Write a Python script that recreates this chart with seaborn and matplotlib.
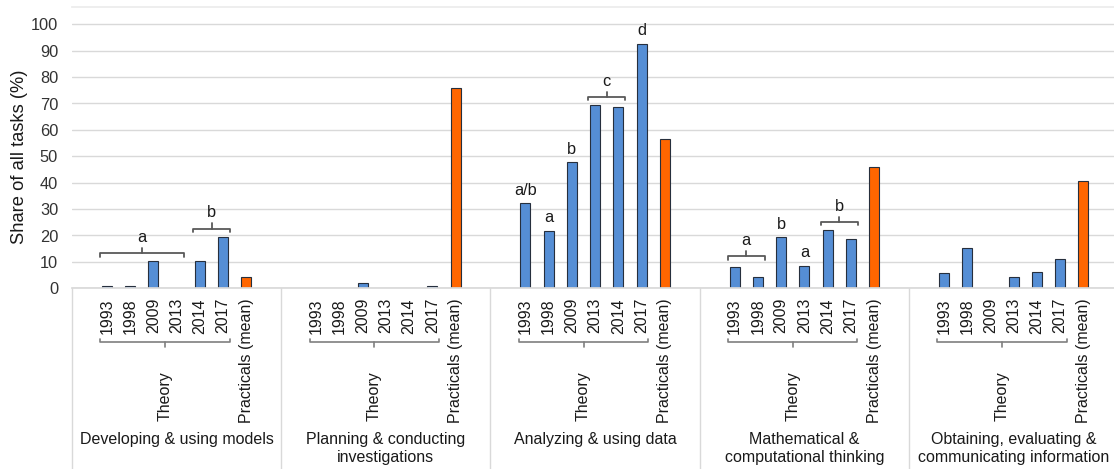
import matplotlib
matplotlib.use("Agg")
import matplotlib.pyplot as plt
from matplotlib.transforms import blended_transform_factory
import numpy as np
import pandas as pd
import seaborn as sns

# ---- data -------------------------------------------------------------
practices = [
    "Developing & using models",
    "Planning & conducting\ninvestigations",
    "Analyzing & using data",
    "Mathematical &\ncomputational thinking",
    "Obtaining, evaluating &\ncommunicating information",
]
years = ["1993", "1998", "2009", "2013", "2014", "2017"]
practical_label = "Practicals (mean)"
theory_label = "Theory"

theory_models = [0.8, 0.9, 10.2, 0.0, 10.4, 19.6]
theory_planning = [0.0, 0.0, 2.1, 0.0, 0.0, 1.0]
theory_analyzing = [32.2, 21.7, 47.7, 69.5, 68.8, 92.5]
theory_math = [7.9, 4.3, 19.3, 8.6, 22.1, 18.6]
theory_obtaining = [5.7, 15.2, 0.0, 4.4, 6.3, 11.0]
practicals_mean = [4.3, 76.0, 56.5, 45.9, 40.8]

# significance groups: (practice index, first year, last year, letter)
sig_groups = [
    (0, "1993", "2013", "a"),
    (0, "2014", "2017", "b"),
    (2, "1993", "1993", "a/b"),
    (2, "1998", "1998", "a"),
    (2, "2009", "2009", "b"),
    (2, "2013", "2014", "c"),
    (2, "2017", "2017", "d"),
    (3, "1993", "1998", "a"),
    (3, "2009", "2009", "b"),
    (3, "2013", "2013", "a"),
    (3, "2014", "2017", "b"),
]

theory_all = [theory_models, theory_planning, theory_analyzing,
              theory_math, theory_obtaining]

# ---- layout helpers ---------------------------------------------------
SLOTS = 9  # one empty slot either side of the seven bars in a group


def slot_pos(g, s):
    return g * SLOTS + s


rows = []
for g, name in enumerate(practices):
    for i, (yr, v) in enumerate(zip(years, theory_all[g])):
        rows.append(dict(practice=name, label=yr, kind="Theory",
                         value=v, pos=slot_pos(g, i + 1)))
    rows.append(dict(practice=name, label=practical_label, kind="Practicals",
                     value=practicals_mean[g], pos=slot_pos(g, 7)))
df = pd.DataFrame(rows)

BLUE = "#558ed5"
ORANGE = "#ff6600"
GRID = "#d9d9d9"
TEXT = "#1a1a1a"

sns.set_theme(style="white")
plt.rcParams["font.family"] = ["Liberation Sans", "DejaVu Sans"]

W, H = 1114, 469
fig = plt.figure(figsize=(W / 100, H / 100), dpi=100)
ax_left, ax_right, ax_top, ax_bottom = 72, W, 7, 288.3
ax = fig.add_axes([ax_left / W, 1 - ax_bottom / H,
                   (ax_right - ax_left) / W, (ax_bottom - ax_top) / H])

sns.barplot(data=df, x="pos", y="value", hue="kind", native_scale=True,
            palette={"Theory": BLUE, "Practicals": ORANGE}, dodge=False,
            saturation=1, width=0.43, edgecolor="#262f3d", linewidth=0.8,
            legend=False, ax=ax)
for p in ax.patches:
    if p.get_height() == 0:
        p.set_visible(False)

px_per_unit_x = 23.25
ax.set_xlim(-0.5, -0.5 + (ax_right - ax_left) / px_per_unit_x)
ax.set_ylim(0, (ax_bottom - ax_top) / 2.64)
ax.set_yticks(np.arange(0, 101, 10))
ax.tick_params(axis="y", length=0, pad=10, labelsize=11.8, labelcolor="#333333")
ax.yaxis.grid(True, color=GRID, lw=1.0)
ax.set_axisbelow(True)
ax.set_ylabel("")
ax.set_xlabel("")

ax.set_xticks(df["pos"].tolist())
ax.set_xticklabels(df["label"].tolist(), rotation=90, fontsize=11.5,
                   color=TEXT)
ax.tick_params(axis="x", length=0, pad=7)

for side in ("left", "right"):
    ax.spines[side].set_visible(False)
ax.spines["bottom"].set_color(GRID)
ax.spines["top"].set_color("#ececec")

fig.text(20 / W, 1 - 156.5 / H, "Share of all tasks (%)", rotation=90,
         ha="center", va="center", fontsize=13.2, color=TEXT)

# ---- significance letters and brackets above bars ---------------------
BR = "#595959"
for g, y0, y1, letter in sig_groups:
    i0, i1 = years.index(y0), years.index(y1)
    vals = theory_all[g][i0:i1 + 1]
    top = max(vals)
    x0, x1 = slot_pos(g, i0 + 1), slot_pos(g, i1 + 1)
    if i0 == i1:
        ax.text(x0, top + 5.0, letter, ha="center", va="center",
                fontsize=11.8, color=TEXT)
    else:
        yb = max(top + 3.0, 12.2)
        xa, xb = x0 - 0.3, x1 + 0.3
        xm = (xa + xb) / 2
        ax.plot([xa, xa, xb, xb], [yb - 1.3, yb, yb, yb - 1.3],
                color=BR, lw=1.3, solid_joinstyle="round")
        ax.plot([xm, xm], [yb, yb + 2.0], color=BR, lw=1.3)
        ax.text(xm, yb + 6.0, letter, ha="center", va="center",
                fontsize=11.8, color=TEXT)

# ---- multi-level category axis below ----------------------------------
tr = blended_transform_factory(ax.transData, fig.transFigure)


def fy(py):
    return 1 - py / H


SEP = "#d9d9d9"
for g in range(len(practices) + 1):
    xs = g * SLOTS - 0.5
    ax.plot([xs, xs], [fy(ax_bottom), fy(H)], transform=tr, color=SEP,
            lw=1.0, clip_on=False)

BR2 = "#7f7f7f"
for g, name in enumerate(practices):
    xa, xb = slot_pos(g, 1) - 0.28, slot_pos(g, 6) + 0.28
    xm = (xa + xb) / 2
    ax.plot([xa, xa, xb, xb], [fy(338.5), fy(342), fy(342), fy(338.5)],
            transform=tr, color=BR2, lw=1.2, clip_on=False)
    ax.plot([xm, xm], [fy(342), fy(347)], transform=tr, color=BR2, lw=1.2,
            clip_on=False)
    ax.text(xm, fy(421), theory_label, rotation=90, ha="center",
            va="bottom", transform=tr, fontsize=11.5, color=TEXT)
    ax.text(slot_pos(g, 4), fy(432), name, ha="center", va="top",
            transform=tr, fontsize=11.5, color=TEXT, linespacing=1.22)

fig.savefig("out.png", dpi=100)
